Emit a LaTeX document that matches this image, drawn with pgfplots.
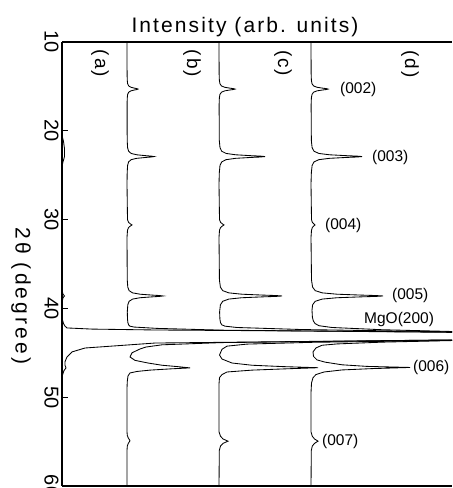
\documentclass[border=0pt]{standalone}
\usepackage{fontspec}
\setmainfont{Liberation Sans}
\newfontfamily\spaced[LetterSpace=10]{Liberation Sans}
\newfontfamily\wide[LetterSpace=15]{Liberation Sans}
\usepackage{pgfplots}
\usepackage{pgfplotstable}
\pgfplotsset{compat=1.18}

% intensity is in picture units from the left axis line, 2theta in degrees
\pgfplotstableread{
i t
0 10
0 20.5
1.5 21.2
2.5 22.0
2.5 22.9
1 23.5
0 24.0
0 37.9
1 38.4
2.5 38.6
1 38.8
0.3 39.2
0 40.5
0.5 41.3
1.5 41.7
3 42.0
5 42.2
30 42.33
93 42.43
390 42.66
1000 43.1
390 43.55
93 43.9
23 44.46
10 44.9
5 45.47
3 46.0
3 46.4
4 46.7
2 47.0
0.5 47.5
0 48.5
0 60
}\tra

\pgfplotstableread{
i t
65 10
65.08 13.5
65.24 14.3
65.65 14.7
66.7 14.95
69.0 15.1
72.6 15.2
74.9 15.25
76 15.3
74.9 15.35
72.6 15.4
69.0 15.5
66.7 15.65
65.65 15.9
65.24 16.3
65.08 17.1
65.19 21.1
65.59 21.9
66.59 22.3
69.2 22.55
74.7 22.7
83.7 22.8
89.3 22.85
92 22.9
89.3 22.95
83.7 23.0
74.7 23.1
69.2 23.25
66.59 23.5
65.59 23.9
65.19 24.7
65 26
65.5 30.0
66.5 30.3
68 30.45
70 30.6
68 30.75
66.5 30.9
65.5 31.2
65 32
65.25 36.8
65.79 37.6
67.1 38.0
70.6 38.25
78 38.4
89.9 38.5
97.4 38.55
101 38.6
97.4 38.65
89.9 38.7
78 38.8
70.6 38.95
67.1 39.2
65.79 39.6
65.3 40.4
65.5 41.2
65.9 41.6
66.6 41.85
68 42.0
72 42.1
95 42.25
160 42.45
390 42.7
1000 43.1
390 43.55
160 43.85
100 44.1
84 44.35
78 44.57
70 45.0
68 45.47
73 45.85
86 46.15
100 46.4
115 46.55
128 46.7
110 46.8
88 46.95
75 47.1
68 47.27
66 47.6
65.3 48.2
65 49
65 53.9
65.3 54.3
66.3 54.6
67.2 54.75
68 54.9
67.2 55.05
66.3 55.2
65.3 55.5
65 56
65 60
}\trb

\pgfplotstableread{
i t
157 10
157.11 13.5
157.35 14.3
157.94 14.7
159.5 14.95
162.8 15.1
168.1 15.2
171.4 15.25
173 15.3
171.4 15.35
168.1 15.4
162.8 15.5
159.5 15.65
157.94 15.9
157.35 16.3
157.11 17.1
157.32 21.1
158.0 21.9
159.7 22.3
164.1 22.55
173.6 22.7
188.8 22.8
198.4 22.85
203 22.9
198.4 22.95
188.8 23.0
173.6 23.1
164.1 23.25
159.7 23.5
158.0 23.9
157.32 24.7
157 26
157.5 30.0
158.5 30.3
160 30.45
162 30.6
160 30.75
158.5 30.9
157.5 31.2
157 32
157.43 36.8
158.39 37.6
160.7 38.0
166.8 38.25
179.7 38.4
200.6 38.5
213.7 38.55
220 38.6
213.7 38.65
200.6 38.7
179.7 38.8
166.8 38.95
160.7 39.2
158.39 39.6
157.6 40.4
157.9 41.2
158.5 41.6
159.8 41.85
163 42.0
175 42.15
240 42.38
390 42.64
1000 43.1
390 43.6
250 43.82
185 44.02
165 44.25
160 44.6
157.5 45.25
160 45.7
170 46.15
190 46.4
220 46.55
256 46.68
225 46.8
190 46.95
165 47.16
160 47.45
157.5 47.8
157 48.5
157 53.9
158.5 54.4
161 54.7
166 54.95
161 55.2
158.5 55.5
157.3 56.0
157 60
}\trc

\pgfplotstableread{
i t
249 10
249.12 13.5
249.37 14.3
250.0 14.7
251.6 14.95
255.1 15.1
260.8 15.2
264.3 15.25
266 15.3
264.3 15.35
260.8 15.4
255.1 15.5
251.6 15.65
250.0 15.9
249.37 16.3
249.12 17.1
249.35 21.1
250.12 21.9
252.0 22.3
256.9 22.55
267.4 22.7
284.3 22.8
294.9 22.85
300 22.9
294.9 22.95
284.3 23.0
267.4 23.1
256.9 23.25
252.0 23.5
250.12 23.9
249.35 24.7
249 26
249.5 30.0
250.3 30.3
251.5 30.45
253 30.6
251.5 30.75
250.3 30.9
249.5 31.2
249 32
249.5 36.8
250.58 37.6
253.2 38.0
260.2 38.25
274.9 38.4
298.8 38.5
313.8 38.55
321 38.6
313.8 38.65
298.8 38.7
274.9 38.8
260.2 38.95
253.2 39.2
250.58 39.6
250 40.2
250.4 41.0
251.3 41.4
253 41.7
257 41.95
270 42.15
320 42.4
390 42.6
1000 43.1
390 43.62
320 43.8
275 44.0
260 44.15
254 44.45
251 44.9
251.5 45.4
255 45.8
263 46.05
280 46.35
305 46.53
348 46.65
310 46.78
280 46.93
262 47.16
254 47.45
251 47.8
249.5 48.4
249 49.5
249 53.9
250.3 54.4
252.5 54.7
256 54.95
252.5 55.2
250.3 55.5
249.3 56.0
249 60
}\trd

\begin{document}
\begin{tikzpicture}
\begin{axis}[
  scale only axis,
  width=390pt,
  height=444pt,
  xmin=0, xmax=390,
  ymin=10, ymax=60,
  y dir=reverse,
  clip mode=individual,
  axis x line*=box,
  axis y line*=left,
  axis line style={line width=1.6pt},
  xtick=\empty,
  ytick={10,20,...,60},
  ytick pos=left,
  tick align=inside,
  major tick length=6pt,
  tick style={line width=1.2pt,black},
  /pgf/number format/assume math mode=true,
  yticklabel style={rotate=-90,anchor=north,font=\fontsize{20}{20}\selectfont},
  ylabel={2θ (degree)},
  every axis y label/.style={at={(axis cs:-41,38.6)},rotate=-90,anchor=center,
    font=\wide\fontsize{21}{21}\selectfont},
]
\addplot[black,line width=0.85pt] table[x=i,y=t] {\tra};
\addplot[black,line width=0.85pt] table[x=i,y=t] {\trb};
\addplot[black,line width=0.85pt] table[x=i,y=t] {\trc};
\addplot[black,line width=0.85pt] table[x=i,y=t] {\trd};

\coordinate (BL) at (axis cs:0,60);
\coordinate (TR) at (axis cs:390,10);

\begin{scope}[every node/.style={font=\spaced\fontsize{19}{19}\selectfont,rotate=-90,anchor=center}]
\node at (axis cs:38,12.4) {(a)};
\node at (axis cs:130,12.4) {(b)};
\node at (axis cs:221,12.4) {(c)};
\node at (axis cs:348,12.5) {(d)};
\end{scope}

\begin{scope}[every node/.style={font=\fontsize{15.5}{15.5}\selectfont,anchor=west,inner sep=0pt}]
\node at (axis cs:278,15.3) {(002)};
\node at (axis cs:310,22.95) {(003)};
\node at (axis cs:263,30.7) {(004)};
\node at (axis cs:330,38.5) {(005)};
\node at (axis cs:302,41.3) {MgO(200)};
\node at (axis cs:351,46.7) {(006)};
\node at (axis cs:260,55.0) {(007)};
\end{scope}

\node[anchor=base,font=\spaced\fontsize{21}{21}\selectfont] at (axis cs:183,10) [yshift=10pt] {Intensity (arb. units)};
\end{axis}
\pgfresetboundingbox
\path[use as bounding box] ([xshift=-62pt,yshift=-2pt]BL) rectangle ([yshift=42pt]TR);
\end{tikzpicture}
\end{document}
